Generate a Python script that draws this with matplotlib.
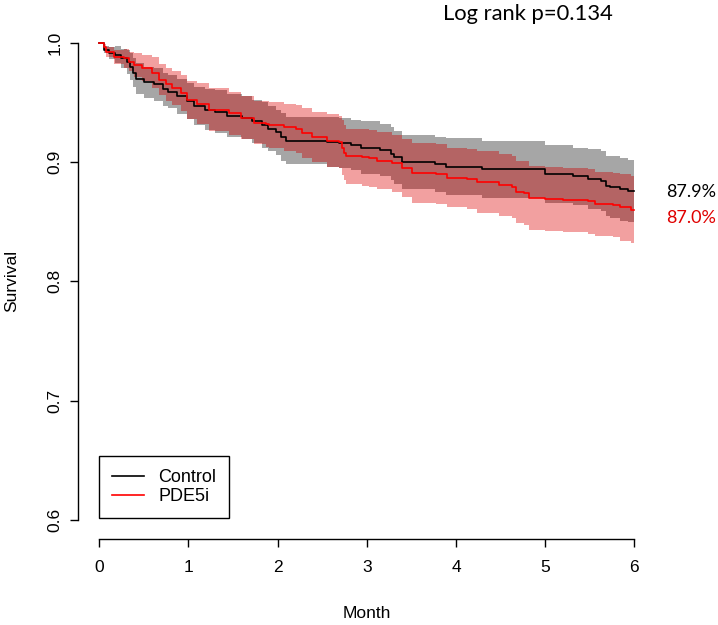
import numpy as np
import matplotlib
matplotlib.use("Agg")
import matplotlib.pyplot as plt
from matplotlib.lines import Line2D

plt.rcParams['font.family'] = ['Liberation Sans', 'DejaVu Sans']

# ---------------- data ----------------
ctrl_time = [0.000, 0.056, 0.112, 0.179, 0.246, 0.313, 0.347, 0.381, 0.414, 0.504,
             0.616, 0.716, 0.772, 0.873, 0.985, 1.063, 1.187, 1.299, 1.433, 1.601,
             1.713, 1.825, 1.892, 1.981, 2.037, 2.093, 2.552, 2.687, 2.821, 2.933,
             3.146, 3.269, 3.302, 3.392, 3.761, 3.884, 4.287, 5.004, 5.317, 5.485,
             5.631, 5.687, 5.732, 5.844, 5.934]
ctrl_surv = [1.000, 0.994, 0.991, 0.990, 0.987, 0.984, 0.980, 0.975, 0.970, 0.967,
             0.965, 0.961, 0.959, 0.955, 0.951, 0.947, 0.944, 0.942, 0.939, 0.937,
             0.934, 0.931, 0.928, 0.925, 0.921, 0.918, 0.917, 0.916, 0.914, 0.912,
             0.910, 0.907, 0.904, 0.900, 0.898, 0.896, 0.894, 0.890, 0.888, 0.886,
             0.884, 0.880, 0.879, 0.877, 0.876]
ctrl_lower = [1.000, 0.991, 0.986, 0.983, 0.979, 0.974, 0.969, 0.963, 0.957, 0.954,
              0.951, 0.947, 0.945, 0.940, 0.936, 0.931, 0.927, 0.924, 0.921, 0.919,
              0.916, 0.912, 0.909, 0.906, 0.901, 0.898, 0.896, 0.895, 0.893, 0.890,
              0.888, 0.885, 0.882, 0.877, 0.875, 0.872, 0.870, 0.866, 0.864, 0.861,
              0.859, 0.855, 0.853, 0.851, 0.850]
ctrl_upper = [1.000, 0.997, 0.996, 0.997, 0.995, 0.994, 0.991, 0.987, 0.983, 0.980,
              0.979, 0.975, 0.973, 0.970, 0.966, 0.963, 0.961, 0.960, 0.957, 0.955,
              0.952, 0.950, 0.947, 0.944, 0.941, 0.938, 0.938, 0.937, 0.935, 0.934,
              0.932, 0.929, 0.926, 0.923, 0.921, 0.920, 0.918, 0.914, 0.912, 0.911,
              0.909, 0.905, 0.905, 0.903, 0.902]

pde_time = [0.000, 0.050, 0.078, 0.168, 0.280, 0.336, 0.392, 0.481, 0.593, 0.672,
            0.750, 0.817, 0.918, 0.985, 1.097, 1.231, 1.455, 1.590, 1.735, 1.870,
            1.903, 2.071, 2.205, 2.272, 2.384, 2.552, 2.687, 2.720, 2.743, 2.765,
            2.944, 3.022, 3.112, 3.280, 3.392, 3.504, 3.773, 3.896, 4.120, 4.232,
            4.478, 4.623, 4.679, 4.758, 4.814, 5.004, 5.205, 5.485, 5.564, 5.765,
            5.844, 5.967]
pde_surv = [1.000, 0.996, 0.992, 0.988, 0.987, 0.984, 0.981, 0.979, 0.975, 0.969,
            0.965, 0.962, 0.958, 0.952, 0.949, 0.944, 0.941, 0.937, 0.933, 0.932,
            0.931, 0.929, 0.928, 0.924, 0.921, 0.918, 0.917, 0.912, 0.908, 0.905,
            0.904, 0.903, 0.901, 0.899, 0.895, 0.891, 0.890, 0.887, 0.886, 0.883,
            0.881, 0.879, 0.875, 0.874, 0.870, 0.869, 0.868, 0.867, 0.865, 0.864,
            0.862, 0.860]
pde_lower = [1.000, 0.993, 0.988, 0.982, 0.979, 0.976, 0.971, 0.968, 0.962, 0.956,
             0.951, 0.948, 0.943, 0.936, 0.932, 0.926, 0.923, 0.919, 0.915, 0.913,
             0.912, 0.909, 0.908, 0.903, 0.900, 0.896, 0.895, 0.889, 0.885, 0.882,
             0.880, 0.879, 0.877, 0.875, 0.871, 0.866, 0.865, 0.862, 0.861, 0.857,
             0.855, 0.853, 0.849, 0.847, 0.843, 0.842, 0.841, 0.840, 0.838, 0.837,
             0.834, 0.832]
pde_upper = [1.000, 0.999, 0.996, 0.994, 0.995, 0.992, 0.991, 0.990, 0.988, 0.982,
             0.979, 0.976, 0.973, 0.968, 0.966, 0.962, 0.959, 0.955, 0.951, 0.951,
             0.950, 0.949, 0.948, 0.945, 0.942, 0.940, 0.939, 0.935, 0.931, 0.928,
             0.928, 0.927, 0.925, 0.923, 0.919, 0.916, 0.915, 0.912, 0.911, 0.909,
             0.907, 0.905, 0.901, 0.901, 0.897, 0.896, 0.895, 0.894, 0.892, 0.891,
             0.890, 0.888]

follow_up_end = 6.0
group_names = ["Control", "PDE5i"]
end_labels = ["87.9%", "87.0%"]
p_text = "Log rank p=0.134"
x_ticks = [0, 1, 2, 3, 4, 5, 6]
y_ticks = [0.6, 0.7, 0.8, 0.9, 1.0]

# ---------------- helpers ----------------
def extend(t, *vals):
    t = np.append(np.asarray(t, float), follow_up_end)
    out = [np.append(np.asarray(v, float), v[-1]) for v in vals]
    return (t, *out)

def step_eval(t, v, grid):
    idx = np.searchsorted(t, grid, side='right') - 1
    idx = np.clip(idx, 0, len(v) - 1)
    return v[idx]

ct, cs, cl, cu = extend(ctrl_time, ctrl_surv, ctrl_lower, ctrl_upper)
pt, ps, pl, pu = extend(pde_time, pde_surv, pde_lower, pde_upper)

grid = np.union1d(ct, pt)
lo_c = step_eval(ct, cl, grid); up_c = step_eval(ct, cu, grid)
lo_p = step_eval(pt, pl, grid); up_p = step_eval(pt, pu, grid)
ov_lo = np.maximum(lo_c, lo_p)
ov_up = np.minimum(up_c, up_p)

# ---------------- figure ----------------
W, H = 718, 625
fig = plt.figure(figsize=(W / 100, H / 100), dpi=100)
ax = fig.add_axes([0.1085, 0.1374, 0.8047, 0.8248])

gray_col = '#A6A6A6'
lred_col = '#F2A0A0'
ov_col = '#B46464'

ax.fill_between(ct, cl, cu, step='post', color=gray_col, lw=0)
ax.fill_between(pt, pl, pu, step='post', color=lred_col, lw=0)
ax.fill_between(grid, ov_lo, ov_up, where=ov_up >= ov_lo, step='post',
                color=ov_col, lw=0, interpolate=False)

ax.step(ct, cs, where='post', color='black', lw=1.2)
ax.step(pt, ps, where='post', color='#FF0000', lw=1.2)

ax.set_xlim(-0.24, 6.24)
ax.set_ylim(0.584, 1.016)
for s in ['top', 'right']:
    ax.spines[s].set_visible(False)
ax.spines['left'].set_bounds(0.6, 1.0)
ax.spines['bottom'].set_bounds(0, 6)
for s in ['left', 'bottom']:
    ax.spines[s].set_linewidth(1.0)

ax.set_xticks(x_ticks)
ax.set_xticklabels([str(v) for v in x_ticks])
ax.set_yticks(y_ticks)
ax.set_yticklabels([f"{v:.1f}" for v in y_ticks])
ax.tick_params(axis='both', direction='out', length=5.8, width=1.0,
               labelsize=12.5, colors='black')
ax.tick_params(axis='x', pad=9)
ax.tick_params(axis='y', pad=5.4)
for lab in ax.get_yticklabels():
    lab.set_rotation(90)
    lab.set_va('center')
    lab.set_ha('right')

ax.set_xlabel("Month", fontsize=12.5, va='center')
ax.xaxis.set_label_coords(0.5, -0.145)
ax.set_ylabel("Survival", fontsize=12.5, va='center')
ax.yaxis.set_label_coords(-0.115, 0.5)

handles = [Line2D([], [], color='black', lw=1.2),
           Line2D([], [], color='#FF0000', lw=1.2)]
leg = ax.legend(handles, group_names, loc='lower left',
                bbox_to_anchor=(0.0365, 0.041), borderaxespad=0,
                fontsize=13, frameon=True, fancybox=False,
                edgecolor='black', framealpha=1, borderpad=0.72,
                handlelength=1.75, handletextpad=0.8, labelspacing=0.12)
leg.get_frame().set_linewidth(1.0)

ax.text(6.36, 0.8749, end_labels[0], color='black', fontsize=13,
        family=['Lato', 'DejaVu Sans'], ha='left', va='center', clip_on=False)
ax.text(6.36, 0.853, end_labels[1], color='#E00000', fontsize=13,
        family=['Lato', 'DejaVu Sans'], ha='left', va='center', clip_on=False)

fig.text(528 / W, 1 - 14 / H, p_text, fontsize=15.8,
         family=['Lato', 'DejaVu Sans'], ha='center', va='center')

fig.savefig("out.png", dpi=100)
